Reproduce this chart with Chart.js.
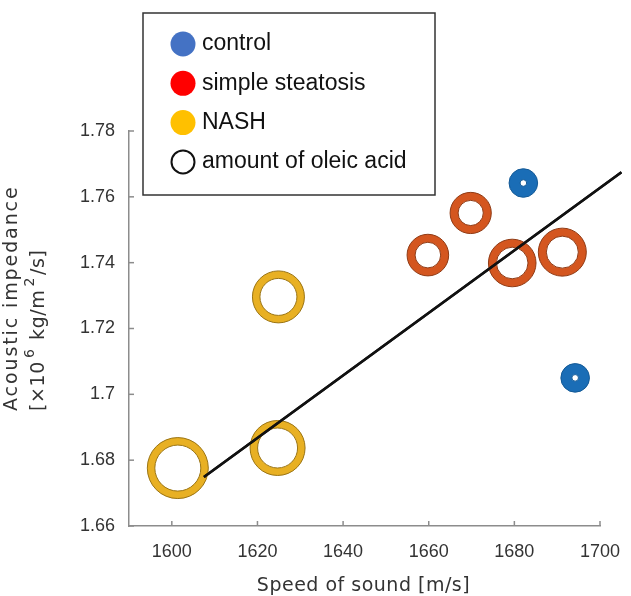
<!DOCTYPE html>
<html>
<head>
<meta charset="utf-8">
<script src="https://cdn.jsdelivr.net/npm/chart.js@4/dist/chart.umd.min.js"></script>
<style>
  html, body { margin: 0; padding: 0; background: #fff; }
</style>
</head>
<body>
<canvas id="myChart" width="631" height="596"></canvas>
<script>
// data
// speed of sound [m/s], acoustic impedance [x10^6 kg/m^2/s], oleic acid amount (drawn as ring radius)
var controlSpeed = [1682.1, 1694.2];
var controlImpedance = [1.7642, 1.7050];
var controlOleic = [14.3, 14.3];

var steatosisSpeed = [1669.8, 1659.8, 1679.5, 1691.2];
var steatosisImpedance = [1.7551, 1.7423, 1.7399, 1.7432];
var steatosisOleic = [20.6, 20.8, 23.8, 24.0];

var nashSpeed = [1624.9, 1601.4, 1624.7];
var nashImpedance = [1.7296, 1.6776, 1.6837];
var nashOleic = [26.0, 30.5, 27.5];

// regression line end points
var fitSpeed = [1607.5, 1705.0];
var fitImpedance = [1.6749, 1.7675];

var xTicks = [1600, 1620, 1640, 1660, 1680, 1700];
var yTicks = [1.66, 1.68, 1.7, 1.72, 1.74, 1.76, 1.78];

var legendItems = ['control', 'simple steatosis', 'NASH', 'amount of oleic acid'];
var legendColors = ['#4472C4', '#FF0000', '#FFC000', null];

var tickFont = '"Liberation Sans", Arial, sans-serif';
var titleFont = '"DejaVu Sans", sans-serif';

function bubbles(speed, imp, oleic, bw) {
    return speed.map(function (s, i) {
        return { x: s, y: imp[i], r: oleic[i] - bw / 2 };
    });
}

// thin darker edge round each ring
var ringEdgePlugin = {
    id: 'ringEdge',
    afterDatasetsDraw: function (chart) {
        var ctx = chart.ctx;
        chart.data.datasets.forEach(function (ds, di) {
            if (!ds.edgeColor) return;
            var meta = chart.getDatasetMeta(di);
            meta.data.forEach(function (el) {
                var r = el.options.radius, bw = el.options.borderWidth;
                ctx.save();
                ctx.strokeStyle = ds.edgeColor;
                ctx.lineWidth = 1;
                ctx.beginPath(); ctx.arc(el.x, el.y, r + bw / 2, 0, Math.PI * 2); ctx.stroke();
                ctx.beginPath(); ctx.arc(el.x, el.y, Math.max(r - bw / 2, 0.5), 0, Math.PI * 2); ctx.stroke();
                ctx.restore();
            });
        });
        // redraw the fit line on top of the edges
        var lineMeta = chart.getDatasetMeta(0);
        lineMeta.dataset.draw(ctx, undefined);
    }
};

// legend box, axis titles and inside tick marks
var extrasPlugin = {
    id: 'extras',
    afterDraw: function (chart) {
        var ctx = chart.ctx;
        var xs = chart.scales.x, ys = chart.scales.y;
        var area = chart.chartArea;

        // inside tick marks
        ctx.save();
        ctx.strokeStyle = '#8c8c8c';
        ctx.lineWidth = 1.5;
        xTicks.forEach(function (v) {
            var px = xs.getPixelForValue(v);
            ctx.beginPath(); ctx.moveTo(px, area.bottom); ctx.lineTo(px, area.bottom - 5); ctx.stroke();
        });
        yTicks.forEach(function (v) {
            var py = ys.getPixelForValue(v);
            ctx.beginPath(); ctx.moveTo(area.left, py); ctx.lineTo(area.left + 5, py); ctx.stroke();
        });
        ctx.restore();

        // x title
        ctx.save();
        ctx.fillStyle = '#333';
        ctx.font = '19px ' + titleFont;
        ctx.letterSpacing = '0.5px';
        ctx.textAlign = 'center';
        ctx.textBaseline = 'alphabetic';
        ctx.fillText('Speed of sound [m/s]', (area.left + area.right) / 2 - 1, 591);
        ctx.restore();

        // y title (two lines, rotated)
        ctx.save();
        ctx.fillStyle = '#333';
        ctx.letterSpacing = '1.9px';
        ctx.translate(17, 411);
        ctx.rotate(-Math.PI / 2);
        ctx.font = '19px ' + titleFont;
        ctx.textAlign = 'left';
        ctx.fillText('Acoustic impedance', 0, 0);
        ctx.restore();

        ctx.save();
        ctx.fillStyle = '#333';
        ctx.letterSpacing = '0.6px';
        ctx.translate(44, 411);
        ctx.rotate(-Math.PI / 2);
        ctx.textAlign = 'left';
        var pieces = [
            { t: '[\u00d710', sup: false },
            { t: '6', sup: true },
            { t: ' kg/m', sup: false },
            { t: '2', sup: true },
            { t: '/s]', sup: false }
        ];
        var cx = 0;
        pieces.forEach(function (p) {
            ctx.font = (p.sup ? '14px ' : '19px ') + titleFont;
            ctx.fillText(p.t, cx + (p.sup ? 3 : 0), p.sup ? -10 : 0);
            cx += ctx.measureText(p.t).width + (p.sup ? 5 : 0);
        });
        ctx.restore();

        // legend box
        ctx.save();
        ctx.fillStyle = '#fff';
        ctx.fillRect(143, 13, 292, 182);
        ctx.strokeStyle = '#333';
        ctx.lineWidth = 1.5;
        ctx.strokeRect(143, 13, 292, 182);
        ctx.font = '23px ' + tickFont;
        ctx.textBaseline = 'middle';
        ctx.textAlign = 'left';
        legendItems.forEach(function (label, i) {
            var cy = 44 + i * 39.3;
            ctx.beginPath();
            ctx.arc(183, cy, legendColors[i] ? 12.5 : 11.5, 0, Math.PI * 2);
            if (legendColors[i]) {
                ctx.fillStyle = legendColors[i];
                ctx.fill();
            } else {
                ctx.strokeStyle = '#111';
                ctx.lineWidth = 2;
                ctx.stroke();
            }
            ctx.fillStyle = '#111';
            ctx.fillText(label, 202, cy);
        });
        ctx.restore();
    }
};

var ctx = document.getElementById('myChart').getContext('2d');
var chart = new Chart(ctx, {
    type: 'bubble',
    data: {
        datasets: [{
            type: 'line',
            label: 'fit',
            data: fitSpeed.map(function (s, i) { return { x: s, y: fitImpedance[i] }; }),
            borderColor: '#111',
            borderWidth: 2.5,
            pointRadius: 0,
            clip: false,
            order: 0
        }, {
            label: 'control',
            data: bubbles(controlSpeed, controlImpedance, controlOleic, 11),
            backgroundColor: 'rgba(255,255,255,0)',
            borderColor: '#1a6db6',
            edgeColor: '#145a96',
            borderWidth: 11,
            order: 1
        }, {
            label: 'simple steatosis',
            data: bubbles(steatosisSpeed, steatosisImpedance, steatosisOleic, 8),
            backgroundColor: 'rgba(255,255,255,0)',
            borderColor: '#d4561f',
            edgeColor: '#8f3a14',
            borderWidth: 8,
            order: 1
        }, {
            label: 'NASH',
            data: bubbles(nashSpeed, nashImpedance, nashOleic, 7.5),
            backgroundColor: 'rgba(255,255,255,0)',
            borderColor: '#e8b023',
            edgeColor: '#9a7414',
            borderWidth: 7.5,
            order: 1
        }]
    },
    options: {
        responsive: false,
        devicePixelRatio: 1,
        animation: false,
        events: [],
        layout: { autoPadding: false, padding: { top: 131, right: 31, bottom: 0, left: 0 } },
        plugins: {
            legend: { display: false },
            tooltip: { enabled: false }
        },
        scales: {
            x: {
                type: 'linear',
                min: 1590,
                max: 1700,
                afterFit: function (scale) {
                    scale.height = 70;
                    scale.paddingLeft = 0;
                    scale.paddingRight = 0;
                },
                afterBuildTicks: function (scale) {
                    scale.ticks = xTicks.map(function (v) { return { value: v }; });
                },
                grid: { drawOnChartArea: false, drawTicks: false },
                border: { color: '#8c8c8c', width: 1.5 },
                ticks: {
                    padding: 15,
                    color: '#333',
                    font: { family: tickFont, size: 18 },
                    callback: function (v) { return String(v); }
                }
            },
            y: {
                type: 'linear',
                min: 1.66,
                max: 1.78,
                afterFit: function (scale) {
                    scale.width = 129;
                    scale.paddingTop = 0;
                    scale.paddingBottom = 0;
                },
                afterBuildTicks: function (scale) {
                    scale.ticks = yTicks.map(function (v) { return { value: v }; });
                },
                grid: { drawOnChartArea: false, drawTicks: false },
                border: { color: '#8c8c8c', width: 1.5 },
                ticks: {
                    padding: 14,
                    color: '#333',
                    font: { family: tickFont, size: 18 },
                    callback: function (v) { return String(v); }
                }
            }
        }
    },
    plugins: [ringEdgePlugin, extrasPlugin]
});
</script>
</body>
</html>
